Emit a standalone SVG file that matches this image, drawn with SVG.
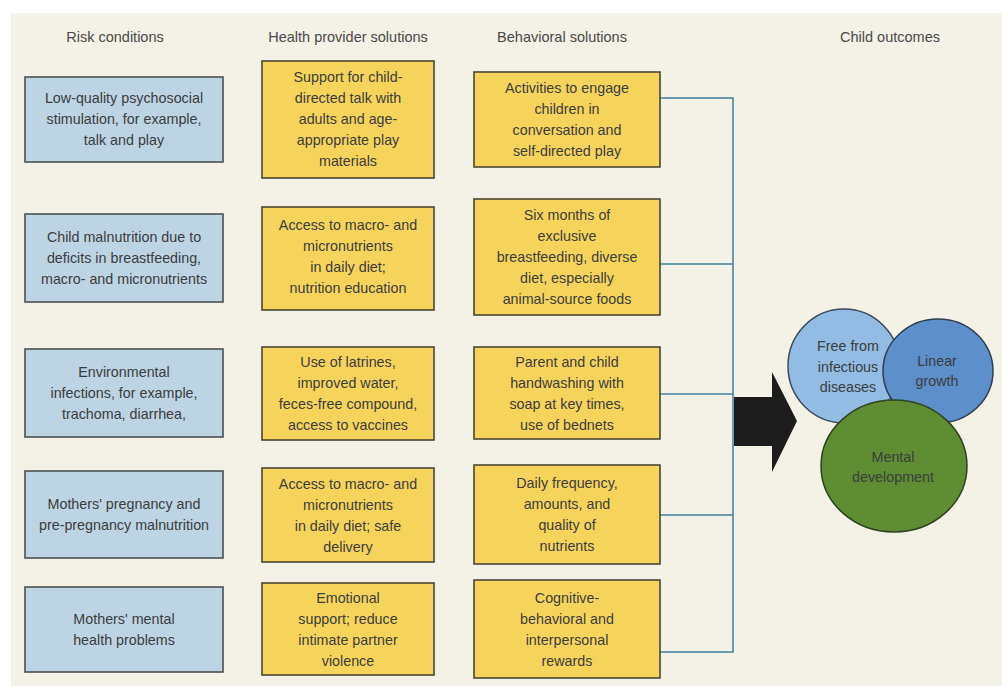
<svg xmlns="http://www.w3.org/2000/svg" width="1002" height="686" viewBox="0 0 1002 686">
  <style>
    text { font-family: "Liberation Sans", Arial, sans-serif; font-size: 14.3px; fill: #3c3c3c; text-anchor: middle; }
    .head { font-size: 14.5px; fill: #4a4a4a; }
    .risk { fill: #bcd4e4; stroke: #4a4f52; stroke-width: 1.6; }
    .sol { fill: #f6d45c; stroke: #4a4636; stroke-width: 1.6; }
    .link { fill: none; stroke: #3f7f9c; stroke-width: 1.5; }
  </style>

  <!-- page background -->
  <rect x="0" y="0" width="1002" height="686" fill="#ffffff"/>
  <rect x="11" y="13" width="991" height="673" fill="#f4f1e6"/>

  <!-- column headings -->
  <g id="headings">
    <text class="head" x="115" y="42">Risk conditions</text>
    <text class="head" x="348" y="42">Health provider solutions</text>
    <text class="head" x="562" y="42">Behavioral solutions</text>
    <text class="head" x="890" y="42">Child outcomes</text>
  </g>

  <!-- connectors from behavioral solutions into the outcome arrow -->
  <g id="connectors">
    <polyline class="link" points="660,98 733,98 733,652 660,652"/>
    <line class="link" x1="660" y1="264" x2="733" y2="264"/>
    <line class="link" x1="660" y1="394" x2="733" y2="394"/>
    <line class="link" x1="660" y1="515" x2="733" y2="515"/>
    <polygon id="big-arrow" points="734,397 772,397 772,372 797,421 772,472 772,446 734,446" fill="#1c1c1c"/>
  </g>

  <!-- risk conditions -->
  <g id="risk1"><rect class="risk" x="25" y="77" width="198" height="85"/>
    <text x="124" y="103">Low-quality psychosocial</text><text x="124" y="124">stimulation, for example,</text><text x="124" y="145">talk and play</text></g>
  <g id="risk2"><rect class="risk" x="25" y="214" width="198" height="88"/>
    <text x="124" y="242">Child malnutrition due to</text><text x="124" y="263">deficits in breastfeeding,</text><text x="124" y="284">macro- and micronutrients</text></g>
  <g id="risk3"><rect class="risk" x="25" y="349" width="198" height="88"/>
    <text x="124" y="377">Environmental</text><text x="124" y="398">infections, for example,</text><text x="124" y="419">trachoma, diarrhea,</text></g>
  <g id="risk4"><rect class="risk" x="25" y="471" width="198" height="87"/>
    <text x="124" y="509">Mothers' pregnancy and</text><text x="124" y="530">pre-pregnancy malnutrition</text></g>
  <g id="risk5"><rect class="risk" x="25" y="587" width="198" height="85"/>
    <text x="124" y="624">Mothers' mental</text><text x="124" y="645">health problems</text></g>

  <!-- health provider solutions -->
  <g id="health1"><rect class="sol" x="262" y="61" width="172" height="117"/>
    <text x="348" y="82">Support for child-</text><text x="348" y="103">directed talk with</text><text x="348" y="124">adults and age-</text><text x="348" y="145">appropriate play</text><text x="348" y="166">materials</text></g>
  <g id="health2"><rect class="sol" x="262" y="207" width="172" height="103"/>
    <text x="348" y="230">Access to macro- and</text><text x="348" y="251">micronutrients</text><text x="348" y="272">in daily diet;</text><text x="348" y="293">nutrition education</text></g>
  <g id="health3"><rect class="sol" x="262" y="347" width="172" height="93"/>
    <text x="348" y="367">Use of latrines,</text><text x="348" y="388">improved water,</text><text x="348" y="409">feces-free compound,</text><text x="348" y="430">access to vaccines</text></g>
  <g id="health4"><rect class="sol" x="262" y="468" width="172" height="94"/>
    <text x="348" y="489">Access to macro- and</text><text x="348" y="510">micronutrients</text><text x="348" y="531">in daily diet; safe</text><text x="348" y="552">delivery</text></g>
  <g id="health5"><rect class="sol" x="262" y="583" width="172" height="92"/>
    <text x="348" y="603">Emotional</text><text x="348" y="624">support; reduce</text><text x="348" y="645">intimate partner</text><text x="348" y="666">violence</text></g>

  <!-- behavioral solutions -->
  <g id="behav1"><rect class="sol" x="474" y="72" width="186" height="95"/>
    <text x="567" y="93">Activities to engage</text><text x="567" y="114">children in</text><text x="567" y="135">conversation and</text><text x="567" y="156">self-directed play</text></g>
  <g id="behav2"><rect class="sol" x="474" y="199" width="186" height="116"/>
    <text x="567" y="220">Six months of</text><text x="567" y="241">exclusive</text><text x="567" y="262">breastfeeding, diverse</text><text x="567" y="283">diet, especially</text><text x="567" y="304">animal-source foods</text></g>
  <g id="behav3"><rect class="sol" x="474" y="347" width="186" height="92"/>
    <text x="567" y="367">Parent and child</text><text x="567" y="388">handwashing with</text><text x="567" y="409">soap at key times,</text><text x="567" y="430">use of bednets</text></g>
  <g id="behav4"><rect class="sol" x="474" y="465" width="186" height="99"/>
    <text x="567" y="488">Daily frequency,</text><text x="567" y="509">amounts, and</text><text x="567" y="530">quality of</text><text x="567" y="551">nutrients</text></g>
  <g id="behav5"><rect class="sol" x="474" y="580" width="186" height="98"/>
    <text x="567" y="603">Cognitive-</text><text x="567" y="624">behavioral and</text><text x="567" y="645">interpersonal</text><text x="567" y="666">rewards</text></g>

  <!-- child outcomes -->
  <g id="outcome-infection">
    <ellipse cx="844" cy="366" rx="56" ry="57" fill="#93bce4" stroke="#3c4a5a" stroke-width="1.5"/>
    <text x="848" y="351" fill="#3a4a60">Free from</text><text x="848" y="372" fill="#3a4a60">infectious</text><text x="848" y="392" fill="#3a4a60">diseases</text>
  </g>
  <g id="outcome-growth">
    <ellipse cx="938" cy="371" rx="55" ry="52" fill="#5d8fcb" stroke="#2f3e52" stroke-width="1.5"/>
    <text x="937" y="366" fill="#2c3c58">Linear</text><text x="937" y="386" fill="#2c3c58">growth</text>
  </g>
  <g id="outcome-mental">
    <ellipse cx="894" cy="466" rx="73" ry="66" fill="#5e8d34" stroke="#2f4320" stroke-width="1.5"/>
    <text x="893" y="462" fill="#2a3f1a">Mental</text><text x="893" y="482" fill="#2a3f1a">development</text>
  </g>
</svg>
